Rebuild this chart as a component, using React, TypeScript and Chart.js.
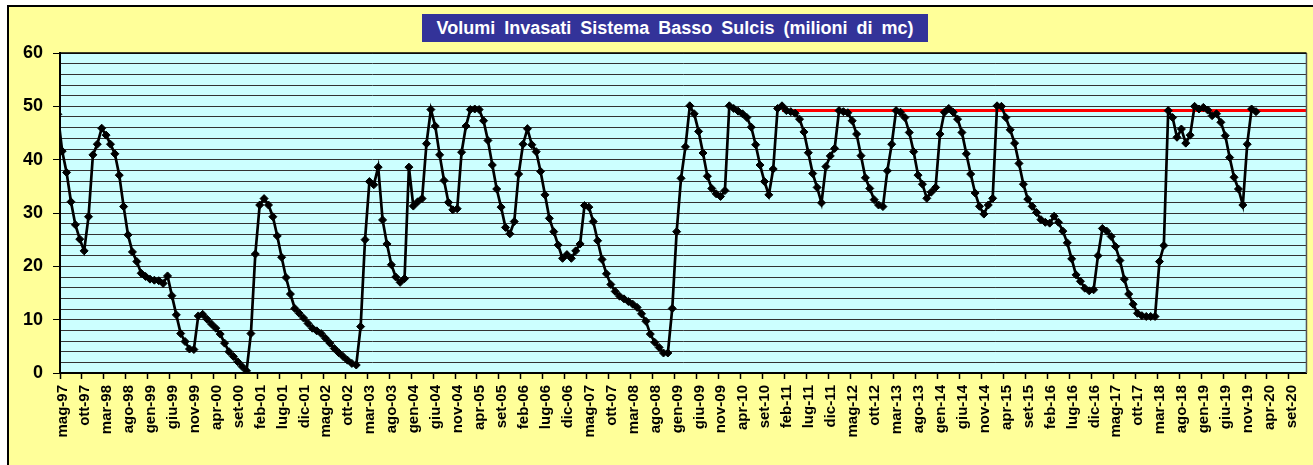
import React, { useEffect, useRef } from 'react';
import { Chart, registerables } from 'chart.js';

Chart.register(...registerables);

const chartTitle = 'Volumi Invasati Sistema Basso Sulcis (milioni di mc)';

// Tick labels: one every 5 months, starting at mag-97
const tickLabels = [
  'mag-97', 'ott-97', 'mar-98', 'ago-98', 'gen-99', 'giu-99', 'nov-99', 'apr-00', 'set-00', 'feb-01',
  'lug-01', 'dic-01', 'mag-02', 'ott-02', 'mar-03', 'ago-03', 'gen-04', 'giu-04', 'nov-04', 'apr-05',
  'set-05', 'feb-06', 'lug-06', 'dic-06', 'mag-07', 'ott-07', 'mar-08', 'ago-08', 'gen-09', 'giu-09',
  'nov-09', 'apr-10', 'set-10', 'feb-11', 'lug-11', 'dic-11', 'mag-12', 'ott-12', 'mar-13', 'ago-13',
  'gen-14', 'giu-14', 'nov-14', 'apr-15', 'set-15', 'feb-16', 'lug-16', 'dic-16', 'mag-17', 'ott-17',
  'mar-18', 'ago-18', 'gen-19', 'giu-19', 'nov-19', 'apr-20', 'set-20',
];
const monthsPerTick = 5;
const axisMonths = 284; // mag-97 .. gen-21

// Monthly volumes (milioni di mc), mid-month readings, first reading apr-97
const volumes = [
  48.5,
  41.6, 37.6, 32.1, 27.8, 25.1, 22.9, 29.3, 40.9, 42.9, 45.9,
  44.6, 42.9, 41.1, 37.1, 31.2, 25.9, 22.7, 20.9, 18.7, 18.1,
  17.6, 17.4, 17.3, 16.8, 18.2, 14.5, 10.9, 7.4, 5.9, 4.5,
  4.4, 10.7, 11.0, 10.1, 9.2, 8.4, 7.3, 5.6, 4.0, 3.1,
  2.1, 1.2, 0.4, 7.4, 22.3, 31.5, 32.7, 31.5, 29.3, 25.7,
  21.7, 17.9, 14.8, 12.1, 11.2, 10.3, 9.3, 8.4, 7.9, 7.4,
  6.5, 5.6, 4.6, 3.8, 3.1, 2.4, 1.8, 1.5, 8.7, 25.0,
  35.9, 35.3, 38.6, 28.7, 24.2, 20.3, 18.0, 17.0, 17.7, 38.6,
  31.3, 32.1, 32.7, 43.0, 49.4, 46.3, 40.9, 36.1, 32.0, 30.6,
  30.8, 41.4, 46.3, 49.4, 49.5, 49.4, 47.3, 43.6, 39.0, 34.5,
  31.1, 27.3, 26.1, 28.4, 37.3, 42.9, 45.8, 42.8, 41.5, 37.8,
  33.4, 29.0, 26.5, 24.0, 21.5, 22.2, 21.5, 22.9, 24.2, 31.4,
  31.1, 28.4, 24.8, 21.3, 18.6, 16.6, 15.3, 14.4, 13.9, 13.4,
  12.9, 12.3, 11.1, 9.7, 7.3, 5.75, 4.8, 3.75, 3.75, 12.1,
  26.5, 36.5, 42.4, 50.1, 48.6, 45.3, 41.25, 36.9, 34.6, 33.6,
  33.1, 34.2, 50.1, 49.6, 49.1, 48.6, 47.9, 46.1, 42.8, 39.0,
  35.9, 33.4, 38.25, 49.6, 50.1, 49.2, 49.0, 48.7, 47.6, 45.2,
  41.3, 37.4, 34.8, 31.9, 38.7, 40.7, 42.1, 49.2, 49.0, 48.8,
  47.3, 44.8, 40.75, 36.6, 34.6, 32.5, 31.5, 31.2, 37.9, 42.9,
  49.2, 48.9, 47.9, 45.1, 41.5, 37.1, 35.4, 32.75, 33.9, 34.8,
  44.8, 48.9, 49.6, 48.9, 47.6, 45.1, 41.1, 37.3, 33.75, 31.25,
  29.8, 31.5, 32.75, 50.1, 50.0, 47.9, 45.6, 43.1, 39.3, 35.4,
  32.6, 31.25, 30.1, 28.75, 28.25, 28.1, 29.4, 28.25, 26.6, 24.4,
  21.4, 18.4, 17.2, 15.9, 15.4, 15.6, 22.0, 27.1, 26.6, 25.6,
  23.7, 21.1, 17.6, 14.8, 12.9, 11.2, 10.75, 10.6, 10.6, 10.6,
  20.9, 23.9, 49.2, 47.9, 44.2, 45.75, 43.1, 44.6, 50.0, 49.5,
  49.8, 49.3, 48.25, 48.6, 47.0, 44.5, 40.4, 36.7, 34.5, 31.5,
  42.9, 49.5, 49.0,
];
const firstReadingMonth = -1; // apr-97, one month before mag-97

// Reference level (red line) from gen-11 onward
const capacityLevel = 49.2;
const capacityStartMonth = 164; // gen-11

const yMin = 0;
const yMax = 60;
const yStep = 2;
const yLabelStep = 10;

const volumePoints = volumes.map((v, i) => ({ x: firstReadingMonth + i + 0.5, y: v }));
const capacityPoints: { x: number; y: number }[] = [];
for (let m = capacityStartMonth; m < axisMonths; m++) capacityPoints.push({ x: m + 0.5, y: capacityLevel });
capacityPoints.push({ x: axisMonths, y: capacityLevel });

const FONT = "'Liberation Sans', Arial, Helvetica, sans-serif";

const plotArea = {
  id: 'plotArea',
  beforeDraw(chart: any) {
    const { ctx, chartArea: a } = chart;
    ctx.save();
    ctx.fillStyle = '#CCFFFF';
    ctx.fillRect(a.left, a.top, a.right - a.left, a.bottom - a.top);
    ctx.restore();
  },
  afterDraw(chart: any) {
    const { ctx, chartArea: a } = chart;
    ctx.save();
    ctx.strokeStyle = '#555';
    ctx.lineWidth = 1.5;
    ctx.beginPath();
    ctx.moveTo(a.right, a.top);
    ctx.lineTo(a.right, a.bottom);
    ctx.stroke();
    ctx.strokeStyle = '#000';
    ctx.lineWidth = 1.5;
    ctx.beginPath();
    ctx.moveTo(a.left, a.top);
    ctx.lineTo(a.right, a.top);
    ctx.stroke();
    ctx.restore();
  },
};

export default function App() {
  const ref = useRef<HTMLCanvasElement>(null);

  useEffect(() => {
    const canvas = ref.current;
    if (!canvas) return;
    const chart = new Chart(canvas, {
      type: 'line',
      data: {
        datasets: [
          {
            label: 'Volumi invasati',
            data: volumePoints,
            borderColor: '#000',
            backgroundColor: '#000',
            borderWidth: 2.7,
            pointStyle: 'rectRot',
            pointRadius: 4,
            pointBorderWidth: 1,
            pointBackgroundColor: '#000',
            pointBorderColor: '#000',
            tension: 0,
            order: 1,
          },
          {
            label: 'Capacità',
            data: capacityPoints,
            borderColor: '#FF0000',
            backgroundColor: '#FF0000',
            borderWidth: 3,
            pointRadius: 0,
            tension: 0,
            order: 2,
          },
        ],
      },
      options: {
        responsive: false,
        animation: false,
        devicePixelRatio: 1,
        layout: { padding: { left: 0, top: 53, right: 6, bottom: 0 } },
        plugins: {
          legend: { display: false },
          title: { display: false },
          tooltip: { enabled: false },
        },
        scales: {
          x: {
            type: 'linear',
            min: 0,
            max: axisMonths,
            afterFit: (s: any) => {
              s.height = 92;
            },
            grid: {
              drawOnChartArea: false,
              drawTicks: true,
              tickLength: 6,
              tickWidth: 1.5,
              tickColor: '#000',
              color: '#000',
            },
            border: { display: true, color: '#000', width: 2 },
            ticks: {
              stepSize: monthsPerTick,
              includeBounds: false,
              autoSkip: false,
              minRotation: 90,
              maxRotation: 90,
              padding: 6,
              labelOffset: 3,
              color: '#000',
              font: { family: FONT, weight: 'bold', size: 15 },
              callback: (v: any) => {
                const i = Math.round(Number(v) / monthsPerTick);
                return tickLabels[i] ?? '';
              },
            },
          },
          y: {
            type: 'linear',
            min: yMin,
            max: yMax,
            afterFit: (s: any) => {
              s.width = 60;
            },
            grid: {
              drawOnChartArea: true,
              color: '#333',
              lineWidth: 1,
              drawTicks: true,
              tickLength: 7,
              tickColor: (ctx: any) => (ctx.tick && ctx.tick.value % yLabelStep === 0 ? '#000' : 'rgba(0,0,0,0)'),
            },
            border: { display: true, color: '#000', width: 2 },
            ticks: {
              stepSize: yStep,
              autoSkip: false,
              padding: 10,
              color: '#000',
              font: { family: FONT, weight: 'bold', size: 18 },
              callback: (v: any) => (Number(v) % yLabelStep === 0 ? String(v) : ''),
            },
          },
        },
      },
      plugins: [plotArea],
    } as any);
    return () => chart.destroy();
  }, []);

  return (
    <div style={{ position: 'fixed', left: 0, top: 0, width: 1313, height: 465, overflow: 'hidden', background: '#fff' }}>
      <div
        style={{
          position: 'absolute',
          left: 7,
          top: 5,
          width: 1400,
          height: 600,
          border: '2px solid #000',
          background: '#FFFF99',
          boxSizing: 'border-box',
        }}
      />
      <canvas ref={ref} width={1313} height={465} style={{ position: 'absolute', left: 0, top: 0, width: 1313, height: 465 }} />
      <div
        style={{
          position: 'absolute',
          left: 422,
          top: 14,
          width: 506,
          height: 28,
          background: '#333399',
          color: '#fff',
          fontFamily: FONT,
          fontWeight: 'bold',
          fontSize: 18,
          lineHeight: '28px',
          textAlign: 'center',
          whiteSpace: 'nowrap',
          wordSpacing: 4,
        }}
      >
        {chartTitle}
      </div>
    </div>
  );
}
